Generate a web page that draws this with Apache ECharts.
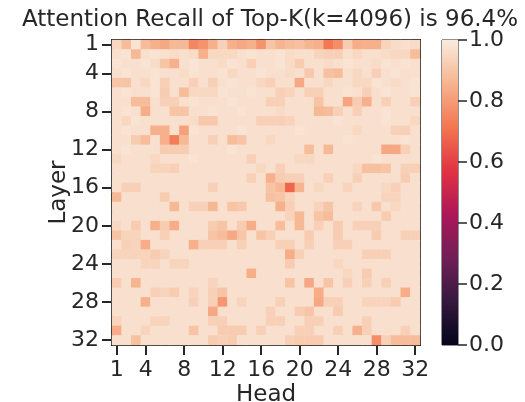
<!DOCTYPE html>
<html><head><meta charset="utf-8">
<script src="https://cdn.jsdelivr.net/npm/echarts@6/dist/echarts.min.js"></script>
<style>html,body{margin:0;padding:0;background:#fff}#c{width:525px;height:402px}</style>
</head><body><div id="c"></div>
<script>
const heads = ['1','2','3','4','5','6','7','8','9','10','11','12','13','14','15','16','17','18','19','20','21','22','23','24','25','26','27','28','29','30','31','32'];
const layers = ['1','2','3','4','5','6','7','8','9','10','11','12','13','14','15','16','17','18','19','20','21','22','23','24','25','26','27','28','29','30','31','32'];
const tickLabels = ['1','4','8','12','16','20','24','28','32'];
const cbTicks = [0.0, 0.2, 0.4, 0.6, 0.8, 1.0];
// recall (in %) per layer (rows) x head (columns)
const recall = [
[95,88,98,88,85,83,87,87,75,78,85,93,85,83,85,78,90,86,88,89,86,85,72,77,92,84,85,85,94,96,97,96],
[97,98,87,97,98,97,96,97,96,85,95,95,95,97,98,97,97,98,96,97,97,94,93,93,97,95,97,97,96,95,95,88],
[98,97,97,98,96,90,85,97,98,97,97,96,98,97,93,97,97,98,96,92,97,97,96,97,98,97,97,96,98,97,98,97],
[97,98,97,97,98,97,97,96,98,97,97,98,95,97,97,98,97,97,96,97,91,97,89,88,97,95,97,93,97,98,97,97],
[90,90,97,95,98,93,97,97,93,97,93,97,98,97,97,95,93,97,97,83,97,97,95,97,97,95,95,98,97,96,97,98],
[97,98,97,97,98,92,97,88,95,95,95,98,97,97,98,97,97,93,94,97,93,93,97,97,98,97,93,97,98,97,97,98],
[97,97,88,88,97,93,93,97,98,97,97,97,98,97,97,97,93,93,97,97,97,90,97,97,82,92,85,97,93,97,97,93],
[97,98,97,84,97,97,90,90,97,97,98,97,97,98,97,97,97,96,97,97,97,87,88,93,97,93,97,97,98,97,97,97],
[97,95,98,97,97,97,97,97,96,91,91,97,97,97,97,93,93,93,94,97,97,97,97,98,97,97,97,97,98,97,97,95],
[97,98,97,97,85,85,97,81,98,97,97,97,97,98,97,97,97,97,97,98,97,97,97,97,97,95,97,97,97,93,93,97],
[97,97,92,88,97,85,73,87,97,97,93,97,88,90,97,97,95,97,97,97,97,97,97,97,98,97,97,97,97,97,98,97],
[97,98,97,97,97,92,92,92,97,97,97,97,98,97,97,97,97,97,97,97,88,97,87,97,97,97,97,97,83,83,93,97],
[95,97,97,97,95,97,97,97,98,97,97,97,97,97,93,97,97,97,97,95,95,97,97,97,97,97,97,98,97,97,97,97],
[97,97,97,97,94,94,93,97,97,97,97,97,97,97,97,95,97,93,97,97,97,97,97,97,97,95,89,89,90,97,93,93],
[97,97,97,97,97,97,97,97,97,97,97,97,97,97,93,97,85,92,93,93,97,97,93,97,97,93,97,97,97,97,92,97],
[97,93,93,97,97,97,97,97,97,97,93,97,97,97,97,97,90,87,68,86,97,95,97,97,94,97,97,97,95,93,97,97],
[87,97,97,97,97,92,97,97,97,97,97,97,97,97,97,97,89,90,94,97,97,97,97,97,97,97,97,97,94,94,97,97],
[97,97,97,97,97,97,87,97,93,93,87,97,90,91,97,97,97,85,93,97,97,94,90,97,97,94,97,91,97,95,97,97],
[97,97,97,97,97,97,97,97,97,97,97,97,97,97,97,97,97,97,94,87,97,90,88,97,97,97,97,97,92,97,97,97],
[95,97,92,97,85,92,84,97,97,97,92,90,97,92,84,97,97,88,97,87,97,93,97,92,97,93,93,93,97,97,97,97],
[90,94,94,97,97,93,97,97,97,97,90,88,83,90,97,90,93,97,97,97,92,97,97,92,97,97,97,92,97,97,93,93],
[97,93,94,84,97,97,97,97,85,93,93,93,97,93,97,97,97,93,93,97,93,97,97,93,93,97,97,97,97,97,97,97],
[94,94,94,94,92,94,97,97,97,97,97,97,97,97,97,97,97,97,84,93,97,97,97,97,97,97,93,93,93,97,97,97],
[97,97,97,94,94,97,94,94,97,97,97,97,97,97,97,97,97,97,92,97,97,97,97,95,97,97,97,97,97,97,97,97],
[97,97,97,97,97,97,97,97,97,97,97,97,97,97,84,97,97,97,97,97,97,97,97,97,95,97,92,97,97,97,97,97],
[92,97,86,97,97,97,97,97,97,97,94,97,97,97,97,97,97,97,90,97,83,97,90,97,93,97,93,97,93,97,97,97],
[97,97,97,97,93,94,92,97,94,97,93,90,97,97,97,97,97,97,97,97,97,84,97,97,97,97,97,97,97,97,84,97],
[97,97,97,85,97,97,97,97,93,97,93,79,97,94,97,97,97,93,97,97,97,83,93,93,97,97,94,94,94,92,97,97],
[97,97,97,97,97,97,97,97,97,97,83,97,97,97,97,97,93,97,97,92,90,97,97,92,97,97,97,97,97,97,97,97],
[94,97,97,97,94,94,97,97,97,97,93,93,97,97,97,97,93,93,97,97,93,93,97,97,97,97,93,97,97,97,97,97],
[84,97,97,94,97,97,97,97,90,97,97,92,92,92,97,93,97,97,97,93,93,97,97,93,97,85,93,97,97,97,93,97],
[97,97,89,97,97,97,97,97,97,97,92,93,92,97,97,97,97,97,93,92,92,92,97,97,97,97,97,77,93,88,88,88]
];
const rocket = ['#03051a','#35193e','#701f57','#ad1759','#e13342','#f37651','#f6b48f','#faebdd'];

const data = [];
recall.forEach((row, l) => row.forEach((v, h) => data.push([h, l, v / 100])));
const txt = '#262626';
const font = 'DejaVu Sans';
const showTick = (i, name) => tickLabels.indexOf(String(name)) >= 0;

const chart = echarts.init(document.getElementById('c'), null, {renderer: 'canvas'});
chart.setOption({
  animation: false,
  textStyle: {fontFamily: font, color: txt},
  title: {text: 'Attention Recall of Top-K(k=4096) is 96.4%', left: 265, textAlign: 'center', top: 4,
    textStyle: {fontFamily: font, fontSize: 23, fontWeight: 'normal', color: txt}},
  grid: [
    {left: 112, top: 40, width: 308, height: 305, outerBoundsMode: 'none', containLabel: false,
     show: true, borderColor: '#1a1a1a', borderWidth: 2, backgroundColor: 'transparent'},
    {left: 442, top: 40, width: 16, height: 305, outerBoundsMode: 'none', containLabel: false,
     show: true, borderColor: '#222', borderWidth: 1, backgroundColor: 'transparent'}
  ],
  xAxis: [
    {type: 'category', gridIndex: 0, data: heads, position: 'bottom',
     name: 'Head', nameLocation: 'middle', nameGap: 39, nameMoveOverlap: false,
     nameTextStyle: {fontFamily: font, fontSize: 23, color: txt},
     axisLine: {show: true, lineStyle: {color: '#1a1a1a', width: 2}}, splitLine: {show: false},
     axisTick: {show: true, alignWithLabel: true, interval: showTick, length: 10, lineStyle: {color: txt, width: 2}},
     axisLabel: {show: true, interval: showTick, margin: 14, fontFamily: font, fontSize: 22, color: txt}},
    {type: 'category', gridIndex: 1, data: ['cb'], show: false}
  ],
  yAxis: [
    {type: 'category', gridIndex: 0, data: layers, inverse: true,
     name: 'Layer', nameLocation: 'middle', nameGap: 41, nameRotate: 90, nameMoveOverlap: false,
     nameTextStyle: {fontFamily: font, fontSize: 23, color: txt},
     axisLine: {show: true, lineStyle: {color: '#1a1a1a', width: 2}}, splitLine: {show: false},
     axisTick: {show: true, alignWithLabel: true, interval: showTick, length: 10, lineStyle: {color: txt, width: 2}},
     axisLabel: {show: true, interval: showTick, margin: 13, fontFamily: font, fontSize: 22, color: txt}},
    {type: 'value', gridIndex: 1, min: 0, max: 1, interval: 0.2, position: 'right',
     axisLine: {show: false}, splitLine: {show: false},
     axisTick: {show: true, length: 9, lineStyle: {color: txt, width: 1.5}},
     axisLabel: {margin: 11, fontFamily: font, fontSize: 22, color: txt, formatter: v => v.toFixed(1)}}
  ],
  visualMap: {show: false, type: 'continuous', min: 0, max: 1, seriesIndex: 0, inRange: {color: rocket}},
  series: [
    {type: 'heatmap', xAxisIndex: 0, yAxisIndex: 0, data: data, itemStyle: {borderWidth: 0}, emphasis: {disabled: true}},
    {type: 'bar', xAxisIndex: 1, yAxisIndex: 1, data: [cbTicks[cbTicks.length - 1]], barWidth: '100%', silent: true,
     itemStyle: {color: new echarts.graphic.LinearGradient(0, 1, 0, 0,
       rocket.map((c, i) => ({offset: i / (rocket.length - 1), color: c})))}}
  ]
});
</script>
</body></html>
